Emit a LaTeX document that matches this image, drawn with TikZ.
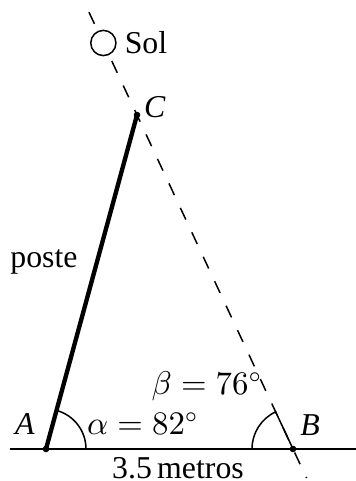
\documentclass[tikz,border=0pt]{standalone}
\usepackage{fontspec}
\setmainfont{Liberation Serif}
\usetikzlibrary{calc}
\begin{document}
\begin{tikzpicture}[x=0.3333pt,y=0.3333pt,
  every node/.style={font=\fontsize{10.6}{12}\selectfont, inner sep=0pt},
  thinline/.style={line width=0.5pt},
  pole/.style={line width=1.45pt},
  ray/.style={line width=0.5pt, dash pattern=on 4.3pt off 4.7pt},
  dot/.style={circle, fill=black, minimum size=2.2pt, inner sep=0pt}]
\useasboundingbox (0,0) rectangle (356,481);
\coordinate (A) at (46,32);
\coordinate (B) at (293,32);
\coordinate (C) at (137,366);
\coordinate (L) at (10,32);
\coordinate (R) at (356,32);
\coordinate (top) at ($(B)!1.308!(C)$);
\coordinate (bot) at ($(C)!1.087!(B)$);
\coordinate (S) at ($(B)!1.2156!(C)$);
% ground
\draw[thinline] (L) -- (R);
% sun ray
\draw[ray] (top) -- (bot);
% sun
\draw[thinline, fill=white] (S) circle[radius=4.2pt];
% pole
\draw[pole] (A) -- (C);
% angle marks
\draw[thinline] ($(A)+(40,0)$) arc[start angle=0, end angle=74.76, radius=13.33pt];
\draw[thinline] (B) -- ($(B)!13.67pt!(C)$) arc[start angle=115.04, end angle=180, radius=13.67pt];
% dots
\node[dot] (dA) at (A) {};
\node[dot] (dB) at (B) {};
\node[dot] (dC) at (C) {};
% labels
\node (sol) at (146,438) {Sol};
\node (lc) at (155,374) {\textit{C}};
\node (poste) at (44,219) {poste};
\node (la) at (25,57) {\textit{A}};
\node (lb) at (310,56) {\textit{B}};
\node (alpha) at (143,57) {$\alpha = 82^\circ$};
\node (beta) at (207,95) {$\beta = 76^\circ$};
\node (dist) at (178,13) {3.5\,metros};
\end{tikzpicture}
\end{document}
